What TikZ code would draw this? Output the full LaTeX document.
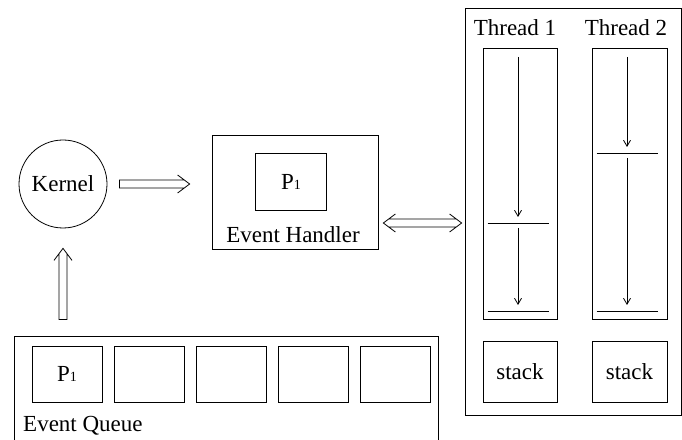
\documentclass[tikz,border=0pt]{standalone}
\usepackage{fontspec}
\setmainfont{Liberation Serif}
\usetikzlibrary{arrows.meta,positioning,calc}

\newcommand{\pone}{P{\fontsize{14}{14}\selectfont 1}}

\begin{document}
\begin{tikzpicture}[x=1pt,y=1pt,
    font=\fontsize{23}{27}\selectfont,
    box/.style={draw, line width=0.8pt, inner sep=0pt},
    % hollow arrow drawn as an outline between two points
    hollow/.style={line width=0.8pt, to path={let \p1=($(\tikztotarget)-(\tikztostart)$), \n1={atan2(\y1,\x1)} in
      ([shift={(\n1:-12pt)},shift={(\n1+90:9pt)}]\tikztotarget) -- (\tikztotarget)
      -- ([shift={(\n1:-12pt)},shift={(\n1-90:9pt)}]\tikztotarget)
      ([shift={(\n1:-5.3pt)},shift={(\n1+90:4pt)}]\tikztotarget) -- ([shift={(\n1+90:4pt)}]\tikztostart)
      -- ([shift={(\n1-90:4pt)}]\tikztostart) -- ([shift={(\n1:-5.3pt)},shift={(\n1-90:4pt)}]\tikztotarget)}},
    hollowboth/.style={line width=0.8pt, to path={let \p1=($(\tikztotarget)-(\tikztostart)$), \n1={atan2(\y1,\x1)} in
      ([shift={(\n1:-12pt)},shift={(\n1+90:9pt)}]\tikztotarget) -- (\tikztotarget)
      -- ([shift={(\n1:-12pt)},shift={(\n1-90:9pt)}]\tikztotarget)
      ([shift={(\n1:12pt)},shift={(\n1+90:9pt)}]\tikztostart) -- (\tikztostart)
      -- ([shift={(\n1:12pt)},shift={(\n1-90:9pt)}]\tikztostart)
      ([shift={(\n1:-5.3pt)},shift={(\n1+90:4pt)}]\tikztotarget) -- ([shift={(\n1:5.3pt)},shift={(\n1+90:4pt)}]\tikztostart)
      ([shift={(\n1:-5.3pt)},shift={(\n1-90:4pt)}]\tikztotarget) -- ([shift={(\n1:5.3pt)},shift={(\n1-90:4pt)}]\tikztostart)}},
    flow/.style={line width=0.8pt, -{Straight Barb[length=6pt,width=7pt]}},
    bar/.style={line width=0.8pt}]
  \useasboundingbox (0,0) rectangle (682,439);
  % kernel and event handler
  \node [circle, draw, line width=0.8pt, minimum size=88pt, inner sep=0pt] (kernel) at (63,255) {Kernel};
  \node [box, minimum width=166pt, minimum height=114pt] (handler) at (295,247) {};
  \node [box, minimum width=71pt, minimum height=57pt] (hp) at (291,257) {\pone};
  \node (hlabel) at (293,204) {Event Handler};
  % event queue
  \node [box, minimum width=424pt, minimum height=108pt] (queue) at (226,49) {};
  \foreach \i/\x in {1/67,2/149,3/231,4/313,5/395}
    \node [box, minimum width=70pt, minimum height=56pt] (q\i) at (\x,65) {};
  \node at (q1) {\pone};
  \node [anchor=west, inner sep=0pt] (qlabel) at (23,13) {Event Queue};
  % threads
  \node [box, minimum width=216pt, minimum height=407pt] (threads) at (573,227.5) {};
  \node [box, minimum width=74pt, minimum height=271pt] (t1) at (520,255.5) {};
  \node [box, minimum width=75pt, minimum height=271pt] (t2) at (629.5,255.5) {};
  \node (t1label) at (515,411) {Thread 1};
  \node (t2label) at (626,411) {Thread 2};
  \node [box, minimum width=74pt, minimum height=61pt] (s1) at (520,67.5) {stack};
  \node [box, minimum width=75pt, minimum height=61pt] (s2) at (629.5,67.5) {stack};
  % execution inside the threads
  \coordinate (a1) at (518,382);
  \coordinate (m1) at (518,216);
  \coordinate (e1) at (518,128);
  \coordinate (a2) at (627,382);
  \coordinate (m2) at (627,286);
  \coordinate (e2) at (627,128);
  \draw [flow, shorten >=6pt] (a1) -- (m1);
  \draw [flow, shorten <=5pt, shorten >=6pt] (m1) -- (e1);
  \draw [flow, shorten >=6pt] (a2) -- (m2);
  \draw [flow, shorten <=5pt, shorten >=6pt] (m2) -- (e2);
  \foreach \c in {m1,e1,m2,e2}
    \draw [bar] ([xshift=-30.5pt]\c) -- ([xshift=30.5pt]\c);
  % connectors
  \coordinate (k1) at ([xshift=12pt]kernel.east);
  \coordinate (k2) at ([xshift=-22pt]kernel.east -| handler.west);
  \coordinate (u1) at ([yshift=16pt]kernel.south |- queue.north);
  \coordinate (u2) at ([yshift=-20pt]kernel.south);
  \coordinate (h1) at ([shift={(5pt,-31pt)}]handler.east);
  \coordinate (h2) at ([xshift=-3pt]h1 -| threads.west);
  \draw [hollow] (k1) to (k2);
  \draw [hollow] (u1) to (u2);
  \draw [hollowboth] (h1) to (h2);
\end{tikzpicture}
\end{document}
